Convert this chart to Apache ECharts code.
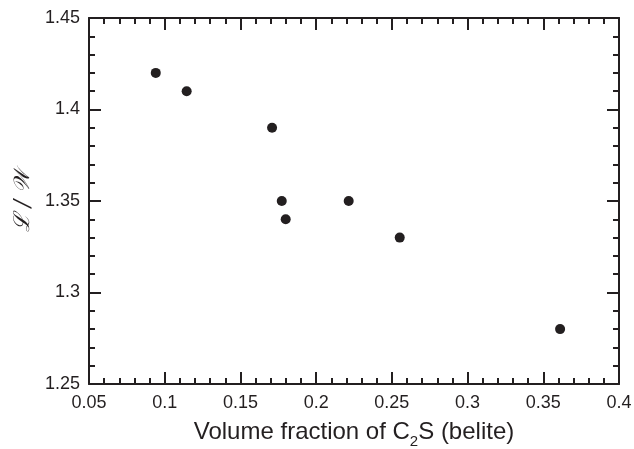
<!DOCTYPE html>
<html>
<head>
<meta charset="utf-8">
<script src="https://cdn.jsdelivr.net/npm/echarts@6/dist/echarts.min.js"></script>
<style>
  html, body { margin: 0; padding: 0; background: #fff; }
  #chart { width: 634px; height: 449px; }
</style>
</head>
<body>
<div id="chart"></div>
<script>
// volume fraction of belite vs L/W ratio
const fraction = [0.0941, 0.1145, 0.1709, 0.1773, 0.1799, 0.2215, 0.2552, 0.3611];
const ratio = [1.42, 1.41, 1.39, 1.35, 1.34, 1.35, 1.33, 1.28];

const ink = "#231f20";
const font = "Liberation Sans, Arial, sans-serif";

const chart = echarts.init(document.getElementById("chart"), null, { renderer: "canvas" });

function axisBase(extra) {
  return Object.assign({
    type: "value",
    interval: 0.05,
    axisLine: { show: true, onZero: false, lineStyle: { color: ink, width: 2 } },
    axisTick: { show: true, inside: true, length: 12, lineStyle: { color: ink, width: 2 } },
    minorTick: { show: true, splitNumber: 5, length: 6, lineStyle: { color: ink, width: 2 } },
    splitLine: { show: false },
    axisLabel: { color: ink, fontSize: 18, fontFamily: font },
  }, extra);
}

const option = {
  backgroundColor: "#fff",
  animation: false,
  grid: { left: 89, right: 15, top: 18, bottom: 65, containLabel: false, outerBoundsMode: "none" },
  xAxis: [
    axisBase({
      min: 0.05, max: 0.4, position: "bottom",
      axisLabel: { color: ink, fontSize: 18, fontFamily: font, margin: 10, showMinLabel: true, showMaxLabel: true },
      name: "{a|Volume fraction of C}{s|2}{a|S (belite)}",
      nameLocation: "middle",
      nameGap: 32,
      nameTextStyle: {
        rich: {
          a: { fontSize: 24, color: ink, fontFamily: font, lineHeight: 26 },
          s: { fontSize: 15, color: ink, fontFamily: font, padding: [18, 0, 0, 0] },
        },
      },
    }),
    axisBase({ min: 0.05, max: 0.4, position: "top", axisLabel: { show: false } }),
  ],
  yAxis: [
    axisBase({
      min: 1.25, max: 1.45, position: "left",
      axisLabel: { color: ink, fontSize: 18, fontFamily: font, margin: 9, showMinLabel: true, showMaxLabel: true },
      name: "\u2112 / \uD835\uDCB2",
      nameLocation: "middle",
      nameGap: 47,
      nameTextStyle: { fontSize: 22, color: ink, fontFamily: "DejaVu Serif, serif", fontStyle: "italic" },
    }),
    axisBase({ min: 1.25, max: 1.45, position: "right", axisLabel: { show: false } }),
  ],
  series: [
    {
      type: "scatter",
      xAxisIndex: 0,
      yAxisIndex: 0,
      symbol: "circle",
      symbolSize: 10,
      itemStyle: { color: ink, opacity: 1 },
      data: fraction.map((x, i) => [x, ratio[i]]),
    },
  ],
};

chart.setOption(option);
</script>
</body>
</html>
